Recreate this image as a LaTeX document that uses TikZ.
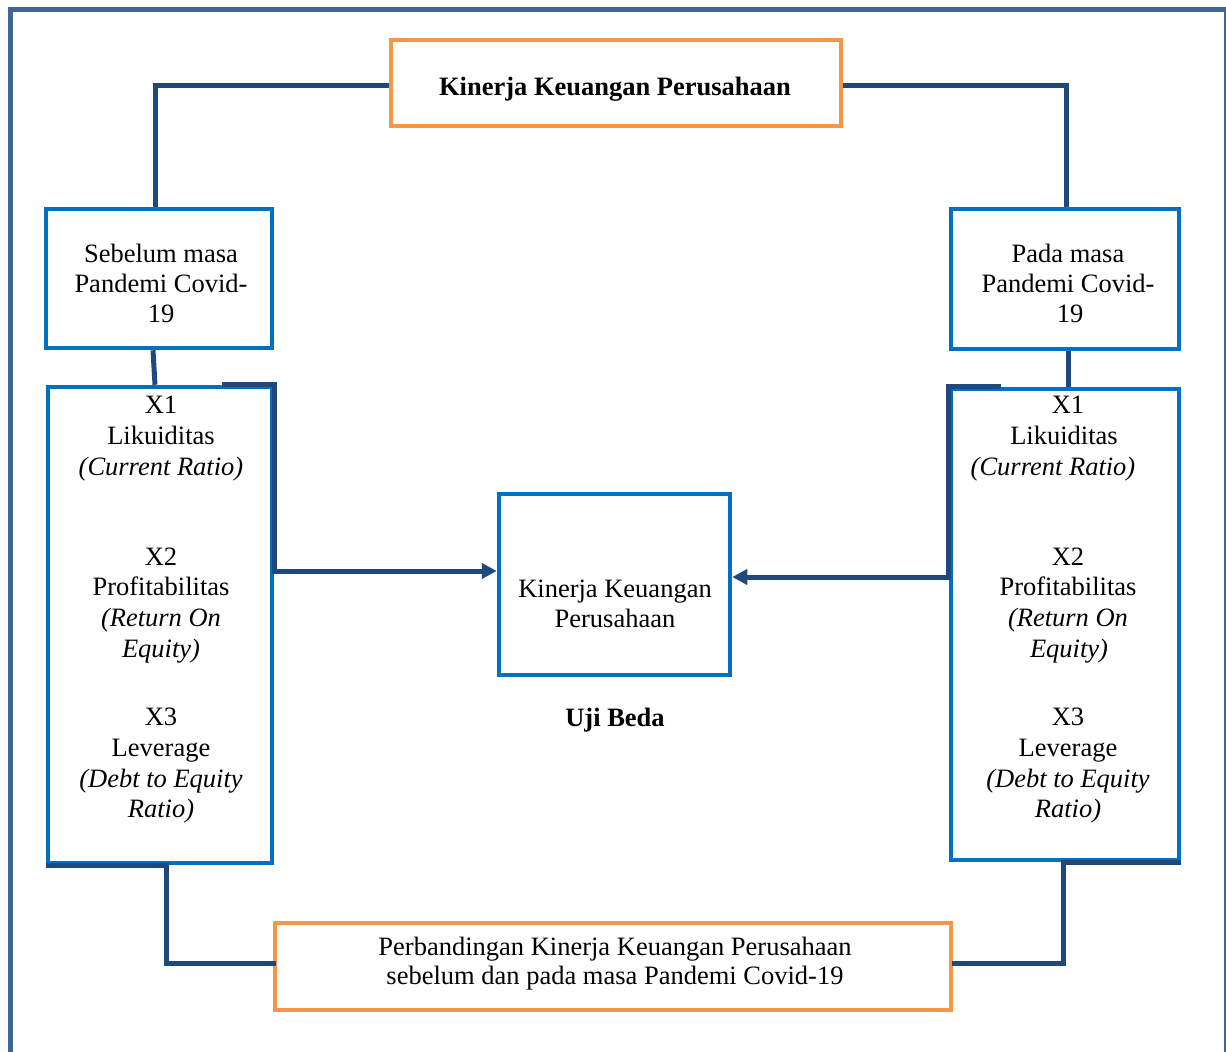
\documentclass[tikz,border=0pt]{standalone}
\usepackage{fontspec}
\setmainfont{Liberation Serif}
\usetikzlibrary{arrows.meta}
\definecolor{boxblue}{RGB}{0,112,192}
\definecolor{boxorange}{RGB}{247,150,70}
\definecolor{linedark}{RGB}{31,73,125}
\definecolor{framecol}{RGB}{64,102,150}
\begin{document}
\begin{tikzpicture}[x=1pt,y=-1pt,
  bluebox/.style={draw=boxblue,line width=4.5pt,inner sep=0pt},
  orangebox/.style={draw=boxorange,line width=4.5pt,inner sep=0pt},
  conn/.style={draw=linedark,line width=5pt},
  txt/.style={font=\fontsize{26.5}{30.5}\selectfont,inner sep=0pt,anchor=base},
  btxt/.style={font=\fontsize{26.5}{30.5}\selectfont\bfseries,inner sep=0pt,anchor=base},
  arr/.style={-{Triangle[length=15pt,width=15pt]}}]
\useasboundingbox (0,0) rectangle (1226,1052);
\clip (0,0) rectangle (1226,1052);
% outer frame
\draw[framecol,line width=4.5pt] (10.5,1070) -- (10.5,9.5) -- (1226,9.5);
\draw[framecol,line width=2pt] (1224.5,9.5) -- (1224.5,1070);
% boxes
\node[orangebox,minimum width=450pt,minimum height=86pt] (top) at (616,83) {};
\node[bluebox,minimum width=226pt,minimum height=139pt] (lt) at (159,278.5) {};
\node[bluebox,minimum width=228pt,minimum height=140pt] (rt) at (1065,279) {};
\node[bluebox,minimum width=224pt,minimum height=476pt] (lb) at (160,625) {};
\node[bluebox,minimum width=228pt,minimum height=471pt] (rb) at (1065,624.5) {};
\node[bluebox,minimum width=231pt,minimum height=181pt] (mid) at (614.5,584.5) {};
\node[orangebox,minimum width=676pt,minimum height=87pt] (bot) at (613,966.5) {};
% texts
\node[btxt] (ttop) at (615,95) {Kinerja Keuangan Perusahaan};
\node[btxt] (uji) at (615,726) {Uji Beda};
\foreach \x/\y/\t [count=\i] in {
  161/262/Sebelum masa, 161/292/Pandemi Covid-, 161/322/19,
  1068/262/Pada masa, 1068/292/Pandemi Covid-, 1070/322/19,
  615/597/Kinerja Keuangan, 615/627/Perusahaan,
  615/955/Perbandingan Kinerja Keuangan Perusahaan,
  615/984/sebelum dan pada masa Pandemi Covid-19,
  161/413/X1, 161/444/Likuiditas, 161/475/\textit{(Current Ratio)},
  161/565/X2, 161/595/Profitabilitas, 161/626/\textit{(Return On},
  161/657/\textit{Equity)},
  161/725/X3, 161/756/Leverage, 161/787/\textit{(Debt to Equity},
  161/817/\textit{Ratio)},
  1068/413/X1, 1064/444/Likuiditas, 1053/475/\textit{(Current Ratio)},
  1068/565/X2, 1068/595/Profitabilitas, 1068/626/\textit{(Return On},
  1069/657/\textit{Equity)},
  1068/725/X3, 1068/756/Leverage, 1068/787/\textit{(Debt to Equity},
  1068/817/\textit{Ratio)}}
  \node[txt] (t\i) at (\x,\y) {\t};
% connectors
\coordinate (tl) at (155.5,85.5);
\coordinate (tr) at (1066,85.5);
\draw[conn] (top.west |- tl) -- (tl) -- (lt.north -| tl);
\draw[conn] (top.east |- tr) -- (tr) -- (rt.north -| tr);
\draw[conn] ([xshift=-6pt]lt.south) -- ([xshift=-5pt]lb.north);
\draw[conn] ([xshift=3pt]rt.south) -- ([xshift=3pt]rb.north);
\coordinate (la) at (272,571);
\coordinate (ra) at (953,577);
\draw[conn,arr,line join=miter] ([xshift=-52pt]lb.north east) -- (lb.north east) |- (mid.west |- la);
\draw[conn,arr,line join=miter] ([xshift=52pt]rb.north west) -- (rb.north west) |- (mid.east |- ra);
\coordinate (bl) at (166,963);
\coordinate (br) at (1063,963);
\draw[conn] (lb.south west) -| (bl) -- ([xshift=3pt]bot.west |- bl);
\draw[conn] (rb.south east) -| (br) -- ([xshift=-1pt]bot.east |- br);
\end{tikzpicture}
\end{document}
